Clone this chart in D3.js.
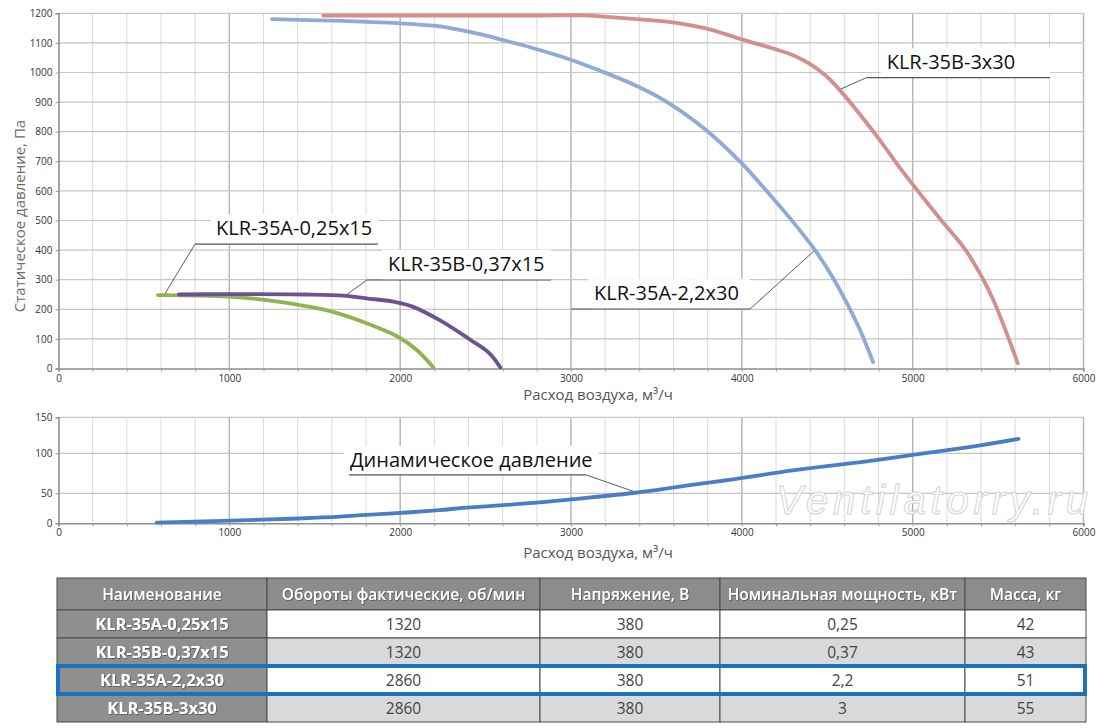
<!DOCTYPE html>
<html>
<head>
<meta charset="utf-8">
<script src="https://cdn.jsdelivr.net/npm/d3@7"></script>
<style>
  body { margin: 0; background: #fff; }
  svg { display: block; font-family: "Open Sans", sans-serif; }
</style>
</head>
<body>
<svg id="chart" width="1100" height="728"></svg>
<script>
// static pressure curves (flow m3/h, pressure Pa)
const flowA025 = [582, 997, 1221, 1445, 1601, 1803, 1982, 2094, 2195];
const pressA025 = [248, 243, 231, 211, 192, 153, 109, 64, 3];

const flowB037 = [705, 1000, 1445, 1669, 1803, 1960, 2072, 2229, 2408, 2520, 2587];
const pressB037 = [250, 251, 250, 246, 237, 226, 209, 164, 98, 53, 3];

const flowA22 = [1250, 1600, 2000, 2200, 2310, 2480, 2600, 2780, 2990, 3170, 3360, 3560, 3790, 4000, 4140, 4290, 4428, 4535, 4620, 4692, 4768];
const pressA22 = [1180, 1175, 1166, 1158, 1148, 1128, 1110, 1082, 1045, 1006, 961, 901, 806, 693, 603, 502, 400, 305, 215, 130, 22];

const flowB3 = [1550, 2000, 2780, 3070, 3210, 3460, 3560, 3790, 4000, 4200, 4300, 4400, 4490, 4570, 4790, 4920, 5000, 5160, 5310, 5410, 5470, 5530, 5615];
const pressB3 = [1192, 1192, 1192, 1193, 1188, 1177, 1172, 1149, 1112, 1078, 1058, 1028, 990, 943, 785, 682, 622, 506, 400, 304, 234, 150, 18];

// dynamic pressure
const flowDyn = [575, 1060, 1410, 1650, 1800, 2040, 2230, 2390, 2780, 3000, 3390, 3760, 3900, 4310, 4730, 5000, 5340, 5620];
const pressDyn = [1, 5, 8, 11, 14, 18, 22, 26, 34, 40, 51, 62, 66, 79, 90, 98, 109, 120];

const flowTicks = d3.range(0, 6001, 200);
const staticTicks = d3.range(0, 1201, 100);
const dynTicks = [0, 50, 100, 150];

// labels: text, anchor on curve, underline level and extent (data units)
const labelText = ["KLR-35A-0,25x15", "KLR-35B-0,37x15", "KLR-35A-2,2x30", "KLR-35B-3x30"];
const labelAnchor = [[621, 251], [1683, 248], [4428, 400], [4571, 942]];
const labelLine = [[799, 1870, 420], [1806, 2883, 299], [3000, 4048, 201], [4731, 5804, 983]];
const labelTextPos = [[922, 451], [1929, 330], [3135, 231], [4848, 1012]];

const dynLabel = "Динамическое давление";
const dynAnchor = [3385, 51];
const dynLine = [1700, 3088, 73];
const dynTextPos = [1706, 83];

// table
const tableHeader = ["Наименование", "Обороты фактические, об/мин", "Напряжение, В", "Номинальная мощность, кВт", "Масса, кг"];
const modelNames = ["KLR-35A-0,25x15", "KLR-35B-0,37x15", "KLR-35A-2,2x30", "KLR-35B-3x30"];
const rpm = ["1320", "1320", "2860", "2860"];
const voltage = ["380", "380", "380", "380"];
const power = ["0,25", "0,37", "2,2", "3"];
const mass = ["42", "43", "51", "55"];
const highlightRow = 2;

const svg = d3.select("#chart");

const defs = svg.append("defs");
defs.append("filter").attr("id", "shadow")
	.attr("x", "-10%").attr("y", "-30%").attr("width", "120%").attr("height", "160%")
	.append("feDropShadow")
	.attr("dx", 0.8).attr("dy", 0.8).attr("stdDeviation", 0.7)
	.attr("flood-color", "#444").attr("flood-opacity", 0.8);

const x = d3.scaleLinear().domain([0, 6000]).range([58.5, 1083.5]);
const yTop = d3.scaleLinear().domain([0, 1200]).range([368.5, 13.3]);
const yBot = d3.scaleLinear().domain([0, 50, 100, 150]).range([523.3, 493.3, 453.3, 417.3]);

function drawGrid(g, y, yTicks){
	g.append("g").selectAll("line")
		.data(flowTicks.filter(d => d > 0))
		.enter().append("line")
		.attr("x1", d => x(d)).attr("x2", d => x(d))
		.attr("y1", y.range()[0]).attr("y2", y.range()[y.range().length - 1])
		.attr("stroke", d => d % 1000 === 0 ? "#b3b3b3" : "#dadada")
		.attr("stroke-width", d => d % 1000 === 0 ? 1.4 : 1);
	g.append("g").selectAll("line")
		.data(yTicks.filter(d => d > 0))
		.enter().append("line")
		.attr("x1", x(0)).attr("x2", x(6000))
		.attr("y1", d => y(d)).attr("y2", d => y(d))
		.attr("stroke", "#c6c6c6")
		.attr("stroke-width", 1.2);
}

function drawAxes(g, y, yTicks){
	let ax = g.append("g")
		.attr("transform", "translate(" + x(0) + ",0)")
		.call(d3.axisLeft(y).tickValues(yTicks).tickSize(3).tickPadding(3).tickFormat(d => d));
	let bx = g.append("g")
		.attr("transform", "translate(0," + y(0) + ")")
		.call(d3.axisBottom(x).tickValues(flowTicks).tickSize(3).tickPadding(3)
			.tickFormat(d => d % 1000 === 0 ? d : ""));
	[ax, bx].forEach(a => {
		a.select(".domain").attr("stroke", "#8e8e8e").attr("stroke-width", 1.6);
		a.selectAll(".tick line").attr("stroke", "#9a9a9a");
		a.selectAll(".tick text").attr("fill", "#333").style("font-size", "10px")
			.style("font-family", "'Open Sans', sans-serif");
	});
}

function drawCurve(g, y, xs, ys, color){
	const line = d3.line()
		.x(d => x(d[0]))
		.y(d => y(d[1]))
		.curve(d3.curveCatmullRom.alpha(0.5));
	g.append("path")
		.attr("d", line(d3.zip(xs, ys)))
		.attr("fill", "none")
		.attr("stroke", color)
		.attr("stroke-width", 3.8)
		.attr("stroke-linecap", "round")
		.attr("stroke-linejoin", "round");
}

function drawLabel(g, y, text, anchor, ln, pos){
	let box = g.append("rect").attr("fill", "#fff");
	let t = g.append("text")
		.attr("x", x(pos[0]))
		.attr("y", y(pos[1]))
		.attr("fill", "#111")
		.style("font-size", "20px")
		.text(text);
	let bb = t.node().getBBox();
	box.attr("x", bb.x - 6)
		.attr("y", bb.y)
		.attr("width", Math.max(x(ln[1]) - bb.x + 6, bb.width + 12))
		.attr("height", y(ln[2]) - bb.y);
	g.append("line")
		.attr("x1", x(ln[0])).attr("x2", x(ln[1]))
		.attr("y1", y(ln[2])).attr("y2", y(ln[2]))
		.attr("stroke", "#555").attr("stroke-width", 1.2);
	let lx = Math.abs(x(ln[0]) - x(anchor[0])) < Math.abs(x(ln[1]) - x(anchor[0])) ? ln[0] : ln[1];
	g.append("line")
		.attr("x1", x(lx)).attr("x2", x(anchor[0]))
		.attr("y1", y(ln[2])).attr("y2", y(anchor[1]))
		.attr("stroke", "#333").attr("stroke-width", 0.8);
}

// ---- static pressure chart
let topChart = svg.append("g");
drawGrid(topChart, yTop, staticTicks);
let topLabels = topChart.append("g");
drawAxes(topChart, yTop, staticTicks);
drawCurve(topChart, yTop, flowA22, pressA22, "#8eaad5");
drawCurve(topChart, yTop, flowB3, pressB3, "#d38e8e");
drawCurve(topChart, yTop, flowA025, pressA025, "#93b352");
drawCurve(topChart, yTop, flowB037, pressB037, "#6d5293");
labelText.forEach((t, i) => drawLabel(topLabels, yTop, t, labelAnchor[i], labelLine[i], labelTextPos[i]));

topChart.append("text")
	.attr("transform", "translate(25,216) rotate(-90)")
	.attr("text-anchor", "middle")
	.attr("fill", "#6a6a6a")
	.style("font-size", "15px")
	.text("Статическое давление, Па");
topChart.append("text")
	.attr("x", 598).attr("y", 400)
	.attr("text-anchor", "middle")
	.attr("fill", "#555")
	.style("font-size", "15px")
	.text("Расход воздуха, м³/ч");

// ---- dynamic pressure chart
let botChart = svg.append("g");
drawGrid(botChart, yBot, dynTicks);
svg.append("text")
	.attr("x", 776).attr("y", 514)
	.attr("textLength", 312)
	.attr("fill", "#fff")
	.attr("stroke", "#d4d4d4")
	.attr("stroke-width", 1)
	.style("font-family", "'Liberation Sans', sans-serif")
	.style("font-style", "italic")
	.style("font-size", "40px")
	.text("Ventilatorry.ru");
let botLabels = botChart.append("g");
drawAxes(botChart, yBot, dynTicks);
drawCurve(botChart, yBot, flowDyn, pressDyn, "#4a7ec4");
drawLabel(botLabels, yBot, dynLabel, dynAnchor, dynLine, dynTextPos);
botChart.append("text")
	.attr("x", 598).attr("y", 558)
	.attr("text-anchor", "middle")
	.attr("fill", "#555")
	.style("font-size", "15px")
	.text("Расход воздуха, м³/ч");

// ---- table
const colEdges = [57, 267, 540, 720, 965, 1086];
const rowTop = 578, headH = 32, rowH = 28;
const rows = modelNames.map((n, i) => [n, rpm[i], voltage[i], power[i], mass[i]]);
let tbl = svg.append("g");

tbl.selectAll("rect.head")
	.data(tableHeader)
	.enter().append("rect")
	.attr("x", (d, i) => colEdges[i]).attr("y", rowTop)
	.attr("width", (d, i) => colEdges[i + 1] - colEdges[i]).attr("height", headH)
	.attr("fill", "#8c8c8c").attr("stroke", "#4a4a4a").attr("stroke-width", 1);
tbl.selectAll("text.head")
	.data(tableHeader)
	.enter().append("text")
	.attr("x", (d, i) => (colEdges[i] + colEdges[i + 1]) / 2)
	.attr("y", rowTop + headH / 2 + 5.5)
	.attr("text-anchor", "middle")
	.attr("fill", "#fff")
	.attr("filter", "url(#shadow)")
	.style("font-size", "15.5px").style("font-weight", 600)
	.text(d => d);

rows.forEach((r, ri) => {
	let y0 = rowTop + headH + ri * rowH;
	let g = tbl.append("g");
	g.selectAll("rect")
		.data(r)
		.enter().append("rect")
		.attr("x", (d, i) => colEdges[i]).attr("y", y0)
		.attr("width", (d, i) => colEdges[i + 1] - colEdges[i]).attr("height", rowH)
		.attr("fill", (d, i) => i === 0 ? "#8f8f8f" : (ri % 2 === 0 ? "#fff" : "#d9d9d9"))
		.attr("stroke", "#4a4a4a").attr("stroke-width", 1);
	g.selectAll("text")
		.data(r)
		.enter().append("text")
		.attr("x", (d, i) => (colEdges[i] + colEdges[i + 1]) / 2)
		.attr("y", y0 + rowH / 2 + 6)
		.attr("text-anchor", "middle")
		.attr("fill", (d, i) => i === 0 ? "#fff" : "#444")
		.attr("filter", (d, i) => i === 0 ? "url(#shadow)" : null)
		.style("font-size", (d, i) => i === 0 ? "16.5px" : "15.5px")
		.style("font-weight", (d, i) => i === 0 ? 700 : 400)
		.text(d => d);
});

tbl.append("rect")
	.attr("x", colEdges[0] + 1).attr("y", rowTop + headH + highlightRow * rowH)
	.attr("width", colEdges[colEdges.length - 1] - colEdges[0] - 2).attr("height", rowH)
	.attr("fill", "none").attr("stroke", "#1b72ba").attr("stroke-width", 4);
</script>
</body>
</html>
